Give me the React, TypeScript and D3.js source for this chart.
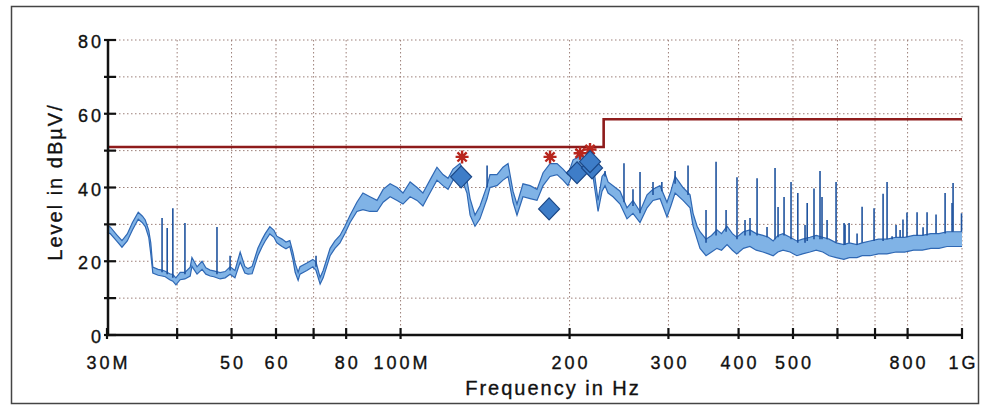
import React from 'react';
import * as d3 from 'd3';

// ---------- data ----------
const xTickValues = [30, 40, 50, 60, 70, 80, 100, 200, 300, 400, 500, 600, 700, 800, 1000];
const xTickLabels = ['30M', '', '50', '60', '', '80', '100M', '200', '300', '400', '500', '', '', '800', '1G'];
const yTickValues = [0, 10, 20, 30, 40, 50, 60, 70, 80];
const yTickLabels = ['0', '', '20', '', '40', '', '60', '', '80'];

const limitFreq = [30, 230, 230, 1000];
const limitLevel = [51, 51, 58.5, 58.5];

const traceFreq = [
  30.0, 30.4, 31.2, 31.9, 32.6, 33.3, 34.1, 34.7, 35.1, 35.6, 35.9, 36.2, 37.0, 37.6, 38.1, 38.8, 39.3, 39.8,
  40.5, 41.3, 42.2, 42.5, 43.4, 44.3, 45.0, 45.8, 46.5, 47.7, 48.7, 49.7, 50.7, 51.8, 52.8, 53.5, 54.4, 55.7,
  56.7, 57.4, 58.5, 59.5, 60.2, 61.5, 62.5, 63.5, 64.3, 64.9, 65.7, 66.2, 68.1, 69.8, 70.7, 71.9, 72.8, 74.9,
  76.4, 78.0, 79.6, 81.3, 83.6, 85.7, 88.2, 90.8, 93.1, 95.8, 98.6, 101.0, 104.0, 107.0, 109.6, 112.8, 116.1,
  119.0, 121.5, 124.0, 127.6, 131.3, 133.0, 135.7, 138.5, 142.6, 144.3, 148.5, 152.2, 155.4, 158.6, 161.2,
  165.2, 170.1, 175.0, 179.4, 184.6, 190.0, 194.7, 198.7, 202.9, 208.8, 214.8, 220.2, 224.8, 228.5, 231.3,
  234.2, 239.0, 246.0, 253.1, 259.4, 267.0, 274.8, 281.6, 289.8, 298.2, 303.0, 308.3, 318.5, 327.8, 331.9,
  337.4, 341.5, 350, 358, 366, 373, 381.5, 390, 397, 408, 419, 430, 442, 452, 461, 470, 480, 494, 508, 520,
  536, 550, 565, 580, 597, 616, 630, 650, 664, 686, 710, 735, 763, 790, 820, 850, 880, 910, 940, 970, 1000,
];
const traceLow = [
  27.8, 27.5, 25.5, 23.8, 25.5, 28.5, 31.4, 30.4, 29.4, 26.5, 22.0, 16.8, 16.2, 16.0, 15.8, 15.0, 14.6, 13.6,
  15.0, 15.2, 16.0, 18.6, 16.5, 17.8, 16.5, 16.0, 15.8, 15.2, 15.5, 16.5, 15.5, 19.8, 16.8, 16.5, 16.6, 21.5,
  24.0, 25.5, 27.4, 26.5, 25.0, 24.0, 23.4, 24.0, 20.5, 17.0, 14.8, 16.5, 17.5, 18.5, 17.5, 13.8, 15.5, 21.5,
  23.5, 25.0, 27.5, 30.5, 33.5, 34.0, 33.5, 33.5, 36.0, 37.5, 36.5, 35.5, 37.5, 36.5, 35.0, 38.5, 42.0,
  40.5, 39.5, 42.0, 43.5, 38.5, 32.5, 29.5, 31.5, 37.0, 40.0, 40.5, 42.0, 43.0, 36.0, 32.5,
  37.5, 37.0, 36.5, 40.5, 43.0, 43.5, 42.0, 40.5, 44.0, 45.0, 44.5, 43.0, 33.5, 39.0, 40.5,
  38.5, 37.5, 35.5, 31.5, 33.0, 30.5, 34.5, 36.5, 37.0, 32.0, 35.0, 38.5, 36.5, 34.5, 29.5,
  26.0, 23.5, 21.5, 22.5, 23.5, 23, 24.5, 23, 22, 23.5, 24, 23, 22.5, 22, 21.5, 22.5, 23, 22.5, 21.5, 22,
  22.5, 23, 22.5, 21.5, 21, 20.5, 21, 21, 21.5, 21.5, 22, 22, 22.5, 22.5, 23, 23, 23.5, 23.5, 24, 24, 24,
];
const traceHigh = [
  29.6, 29.3, 27.2, 25.6, 27.4, 30.5, 33.3, 32.2, 31.2, 28.4, 25.0, 18.4, 17.8, 17.6, 17.3, 16.6, 16.4, 15.5,
  17.0, 17.0, 18.4, 21.0, 18.5, 20.0, 18.2, 17.6, 17.4, 16.9, 17.2, 18.5, 17.5, 22.5, 18.6, 18.0, 18.6, 23.5,
  26.0, 27.5, 29.4, 28.4, 26.8, 26.0, 25.2, 25.6, 22.5, 19.5, 17.0, 18.5, 19.5, 20.5, 19.8, 15.6, 17.5, 23.5,
  25.5, 27.0, 29.5, 32.5, 36.0, 38.5, 37.5, 36.5, 39.5, 41.0, 40.0, 38.5, 41.5, 40.0, 38.5, 42.0, 45.5,
  43.5, 42.5, 45.0, 46.5, 42.0, 37.0, 32.5, 35.0, 40.5, 43.5, 43.5, 45.5, 46.5, 39.0, 35.5,
  41.0, 40.5, 39.5, 44.0, 46.5, 46.5, 45.0, 43.5, 47.5, 48.5, 48.0, 46.5, 36.5, 43.0, 44.0,
  41.5, 40.5, 39.0, 34.5, 36.5, 33.5, 38.0, 39.5, 40.5, 36.0, 39.0, 43.0, 40.0, 38.0, 33.0,
  29.5, 28.0, 26, 27, 28.5, 27.5, 29.5, 27.5, 26.5, 28, 28.5, 27.5, 27, 26.5, 25.5, 27, 27.5, 26.5, 25.5, 26,
  26.5, 27, 26.5, 26, 25, 24.5, 25, 24.5, 25, 25.5, 26, 26, 26.5, 26.5, 27, 27, 27.5, 27.5, 28, 28, 28,
];

const spikeFreq = [
  37.6, 38.4, 39.3, 41.3, 47.1, 49.7, 70.7, 142.6, 231.3, 250.0, 259.4, 267.0, 281.6, 292, 308.3, 325.1,
  350.0, 364.7, 380.0, 397.4, 410.7, 419.2, 431.5, 449.5, 464.5, 470.3, 482, 496, 510, 525.3, 530, 545,
  558.6, 563.2, 575, 596.6, 616.5, 619, 629.3, 650.3, 663.8, 697.2, 723.5, 735.4, 750.7, 763, 775.8, 785,
  798, 831.7, 852.4, 866.5, 899, 933, 960, 964, 998,
];
const spikeBase = [
  17, 16.5, 15.5, 16.5, 16.5, 17.5, 18.5, 40, 43, 36, 35, 33, 38, 39, 41, 38,
  25, 27, 28, 26, 27, 27, 27, 26.5, 26, 26.5, 27, 26, 25, 25, 25.5, 26,
  26, 26, 26, 25, 24.5, 24.5, 25, 24.5, 25, 25.5, 25.5, 26, 26, 26.5, 26.5, 26.5,
  26.5, 27, 27, 27, 27.5, 27.5, 28, 28, 28,
];
const spikeTop = [
  31.7, 29, 34.4, 30.4, 29.3, 21.5, 21.5, 46, 44.5, 46.6, 39.5, 44.2, 41.5, 41.5, 44.5, 46,
  33.9, 47, 33.9, 42.8, 31.2, 31.7, 42.5, 29.3, 45.3, 34.7, 37.4, 41.5, 38.5, 29.8, 35.8, 39.7,
  44.5, 37.4, 31.2, 41.5, 30.4, 30, 30.4, 27.5, 34.8, 34.4, 38.3, 41.5, 26.8, 29.8, 28.5, 31.3,
  33.2, 33.3, 29.2, 33.3, 32.7, 38.5, 35.8, 41.2, 33,
];

const peakFreq = [128.7, 184.6, 208.8, 217.5];
const peakLevel = [48.3, 48.3, 49.3, 50.3];

const qpFreq = [128.2, 183.9, 206.2, 219.3, 217.5];
const qpLevel = [42.9, 34.2, 44.0, 45.3, 47.0];

// ---------- layout ----------
const W = 985;
const H = 407;
const X0 = 107, X1 = 962, Y0 = 335, Y1 = 40;
const FONT = '"Liberation Sans", Arial, Helvetica, sans-serif';

export default function App() {
  const x = d3.scaleLog().domain([30, 1000]).range([X0, X1]);
  const y = d3.scaleLinear().domain([0, 80]).range([Y0, Y1]);

  const idx = traceFreq.map((_, i) => i);
  const area = d3.area<number>()
    .x((i) => x(traceFreq[i]))
    .y0((i) => y(traceLow[i]))
    .y1((i) => y(traceHigh[i]));
  const lowLine = d3.line<number>().x((i) => x(traceFreq[i])).y((i) => y(traceLow[i]));
  const highLine = d3.line<number>().x((i) => x(traceFreq[i])).y((i) => y(traceHigh[i]));
  const limitLine = d3.line<number>().x((i) => x(limitFreq[i])).y((i) => y(limitLevel[i]));

  const gridColor = '#9c7f78';

  const star = (cx: number, cy: number, r: number) => {
    const parts: string[] = [];
    for (let k = 0; k < 4; k++) {
      const a = (k * Math.PI) / 4;
      const dx = Math.cos(a) * r, dy = Math.sin(a) * r;
      parts.push(`M${cx - dx},${cy - dy}L${cx + dx},${cy + dy}`);
    }
    return parts.join('');
  };
  const diamond = (cx: number, cy: number, rx: number, ry: number) =>
    `M${cx},${cy - ry}L${cx + rx},${cy}L${cx},${cy + ry}L${cx - rx},${cy}Z`;

  const textStyle = { fontFamily: FONT, fill: '#111', stroke: '#111', strokeWidth: 0.35 };

  return (
    <svg width={W} height={H} style={{ position: 'absolute', left: 0, top: 0, background: '#fff' }}>
      <rect x={11.5} y={6.5} width={967} height={397} fill="#fff" stroke="#444" strokeWidth={1.5} />

      {/* grid */}
      {yTickValues.filter((v) => v > 0).map((v) => (
        <line key={'gy' + v} x1={X0} x2={X1} y1={y(v)} y2={y(v)} stroke={gridColor} strokeWidth={1} strokeDasharray="1.5,2.5" />
      ))}
      {xTickValues.filter((v) => v > 30).map((v) => (
        <line key={'gx' + v} x1={x(v)} x2={x(v)} y1={Y1} y2={Y0} stroke={gridColor} strokeWidth={1} strokeDasharray="1.5,2.5" />
      ))}

      {/* limit line */}
      <path d={limitLine(limitFreq.map((_, i) => i)) || ''} fill="none" stroke="#8e1b1b" strokeWidth={2.6} />

      {/* trace */}
      <path d={area(idx) || ''} fill="#80b3e6" stroke="none" />
      <path d={lowLine(idx) || ''} fill="none" stroke="#2f68b4" strokeWidth={1.2} />
      <path d={highLine(idx) || ''} fill="none" stroke="#2f68b4" strokeWidth={1.2} />
      {spikeFreq.map((f, i) => (
        <line key={'sp' + i} x1={x(f)} x2={x(f)} y1={y(spikeBase[i])} y2={y(spikeTop[i])} stroke="#1f539e" strokeWidth={1.6} />
      ))}

      {/* peak stars */}
      {peakFreq.map((f, i) => (
        <path key={'pk' + i} d={star(x(f), y(peakLevel[i]), 6.5)} stroke="#b8261d" strokeWidth={2.4} fill="none" />
      ))}
      {/* quasi-peak diamonds */}
      {qpFreq.map((f, i) => (
        <path key={'qp' + i} d={diamond(x(f), y(qpLevel[i]), 10.5, 11)} fill="#3e7dc8" stroke="#1b4786" strokeWidth={1.2} />
      ))}

      {/* axes */}
      <line x1={X0} x2={X1} y1={Y0} y2={Y0} stroke="#111" strokeWidth={2.5} />
      <line x1={X0 + 1} x2={X0 + 1} y1={Y1 - 1} y2={Y0} stroke="#111" strokeWidth={2.5} />
      {yTickValues.map((v) => (
        <line key={'ty' + v} x1={X0 - 3} x2={X0 + 9} y1={y(v)} y2={y(v)} stroke="#111" strokeWidth={2.2} />
      ))}
      {xTickValues.map((v) => (
        <line key={'tx' + v} x1={x(v)} x2={x(v)} y1={Y0 - 7} y2={Y0 + 4} stroke="#111" strokeWidth={2.2} />
      ))}

      {/* tick labels */}
      {yTickValues.map((v, i) =>
        yTickLabels[i] ? (
          <text key={'ly' + v} x={104} y={y(v) + 8} textAnchor="end" fontSize={18} letterSpacing={3} style={textStyle}>
            {yTickLabels[i]}
          </text>
        ) : null
      )}
      {xTickValues.map((v, i) =>
        xTickLabels[i] ? (
          <text key={'lx' + v} x={x(v) + 1.5} y={369} textAnchor="middle" fontSize={18} letterSpacing={3} style={textStyle}>
            {xTickLabels[i]}
          </text>
        ) : null
      )}

      {/* axis titles */}
      <text x={553} y={395} textAnchor="middle" fontSize={20} letterSpacing={2} style={textStyle}>
        Frequency in Hz
      </text>
      <text transform="translate(62,182) rotate(-90)" textAnchor="middle" fontSize={20} letterSpacing={2} style={textStyle}>
        Level in dBµV/
      </text>
    </svg>
  );
}
